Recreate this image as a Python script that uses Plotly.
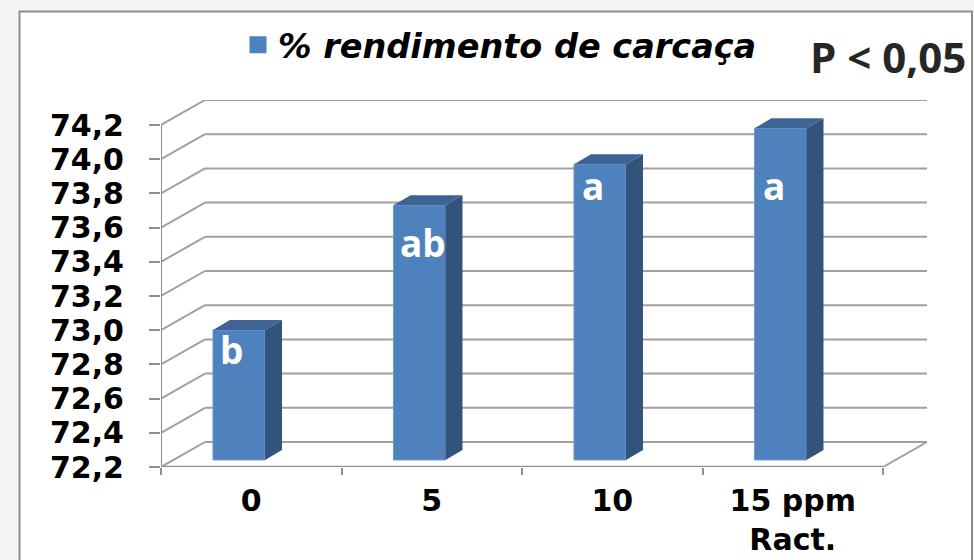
import plotly.graph_objects as go

categories = ["0", "5", "10", "15 ppm<br>Ract."]
values = [72.96, 73.69, 73.93, 74.14]
tick_values = [72.2, 72.4, 72.6, 72.8, 73.0, 73.2, 73.4, 73.6, 73.8, 74.0, 74.2]
letters = ["b", "ab", "a", "a"]
letter_x = [0.388, 1.452, 2.393, 3.396]
letter_y = [72.885, 73.51, 73.845, 73.845]
series_name = "% rendimento de carcaça"

W, H = 974, 560
PX_CAT = 180.5
PX_UNIT = 171.0
LEFT, TOP, BOTTOM, RIGHT = 161, 100, 467, 929
WALL_DX = 44 / PX_CAT
WALL_DY = 25 / PX_UNIT
BAR_DX = 17 / PX_CAT
BAR_DY = 10 / PX_UNIT
BAR_W = 52 / PX_CAT
BAR_OFF = 0.432
BASE_SHIFT = 7 / PX_UNIT
Y0 = tick_values[0]
N = len(categories)

GRID = "#a0a0a0"
AXIS = "#8f8f8f"
FACE = "#4f81bd"
SIDE = "#32547c"
TOPC = "#3d6494"

fig = go.Figure()

shapes = [dict(type="rect", xref="paper", yref="paper",
               x0=19.5 / W, x1=972 / W, y0=-0.02, y1=1 - 11.5 / H,
               fillcolor="white", line=dict(color="#8c8c8c", width=2), layer="below")]

def seg(x0, y0, x1, y1, color=GRID, width=2):
    shapes.append(dict(type="line", xref="x", yref="y", x0=x0, y0=y0, x1=x1, y1=y1,
                       line=dict(color=color, width=width), layer="below"))

for t in tick_values:
    seg(0, t, WALL_DX, t + WALL_DY)
    seg(WALL_DX, t + WALL_DY, N + WALL_DX, t + WALL_DY)
seg(N, Y0, N + WALL_DX, Y0 + WALL_DY)
seg(0, Y0, N, Y0, AXIS, 2.5)
seg(0, Y0, 0, tick_values[-1], AXIS, 2)

centers = [i + BAR_OFF for i in range(N)]
fig.add_trace(go.Bar(
    x=centers, y=[v - Y0 for v in values], base=Y0 + BASE_SHIFT,
    width=BAR_W, name=series_name,
    marker=dict(color=FACE, line=dict(color="#6f9bd0", width=1)),
    showlegend=False, hoverinfo="skip"))
# Legend entry with the larger swatch of the reference
fig.add_trace(go.Bar(
    x=[None], y=[None], name=series_name,
    marker=dict(color=FACE, line=dict(color=FACE, width=5)),
    showlegend=True, hoverinfo="skip"))

for c, v in zip(centers, values):
    l, r = c - BAR_W / 2, c + BAR_W / 2
    b = Y0 + BASE_SHIFT
    t = v + BASE_SHIFT
    fig.add_trace(go.Scatter(
        x=[r, r + BAR_DX, r + BAR_DX, r, r], y=[b, b + BAR_DY, t + BAR_DY, t, b],
        mode="lines", fill="toself", fillcolor=SIDE, line=dict(width=0),
        showlegend=False, hoverinfo="skip"))
    fig.add_trace(go.Scatter(
        x=[l, r, r + BAR_DX, l + BAR_DX, l], y=[t, t, t + BAR_DY, t + BAR_DY, t],
        mode="lines", fill="toself", fillcolor=TOPC, line=dict(width=0),
        showlegend=False, hoverinfo="skip"))

annotations = [dict(x=x, y=y, xref="x", yref="y", text=f"<b>{s}</b>", showarrow=False,
                    font=dict(family="Open Sans", size=37, color="white"))
               for x, y, s in zip(letter_x, letter_y, letters)]
annotations.append(dict(x=968 / W, y=1 - 57 / H, xref="paper", yref="paper", xanchor="right",
                        yanchor="middle", text="<b>P &lt; 0,05</b>", showarrow=False,
                        font=dict(family="Open Sans", size=42, color="#262626")))

fig.update_layout(
    width=W, height=H, autosize=False,
    margin=dict(l=0, r=0, t=0, b=0),
    paper_bgcolor="#f4f4f4", plot_bgcolor="rgba(0,0,0,0)",
    shapes=shapes, annotations=annotations, separators=",.",
    legend=dict(x=238 / W, y=1 - 45 / H, xanchor="left", yanchor="middle",
                bgcolor="rgba(0,0,0,0)",
                font=dict(family="DejaVu Sans", size=33.5, color="black", weight="bold", style="italic")),
    font=dict(family="DejaVu Sans"),
    hovermode=False,
    xaxis=dict(domain=[LEFT / W, RIGHT / W], range=[0, (RIGHT - LEFT) / PX_CAT],
               tickmode="array", tickvals=[i + 0.5 for i in range(N)], ticktext=categories,
               ticks="", showgrid=False, zeroline=False, showline=False, automargin=False,
               tickfont=dict(family="DejaVu Sans", size=30, color="black", weight="bold"),
               ticklabelstandoff=13,
               minor=dict(tickmode="array", tickvals=list(range(N + 1)), ticks="outside",
                          ticklen=7, tickwidth=2, tickcolor=AXIS, showgrid=False)),
    yaxis=dict(domain=[1 - BOTTOM / H, 1 - TOP / H],
               range=[Y0, Y0 + (BOTTOM - TOP) / PX_UNIT],
               tickmode="array", tickvals=tick_values, tickformat=".1f",
               ticks="outside", ticklen=11, tickwidth=2, tickcolor=AXIS,
               showgrid=False, zeroline=False, showline=False, automargin=False,
               tickfont=dict(family="DejaVu Sans", size=30, color="black", weight="bold"),
               ticklabelstandoff=19),
)

fig.write_html("out.html", config=dict(displayModeBar=False),
               post_script="document.body.style.margin='0';window.dispatchEvent(new Event('resize'));")
